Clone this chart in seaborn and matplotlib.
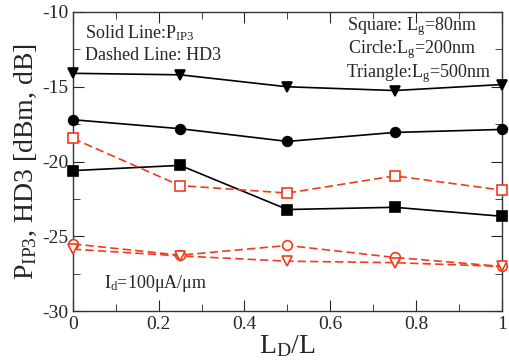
import numpy as np
import pandas as pd
import matplotlib
matplotlib.use("Agg")
import matplotlib.pyplot as plt
import seaborn as sns
from matplotlib.ticker import MultipleLocator

# Dados
ld_l = [0, 0.25, 0.5, 0.75, 1.0]

pip3_80 = [-20.6, -20.25, -23.2, -23.05, -23.65]
pip3_200 = [-17.2, -17.8, -18.65, -18.05, -17.85]
pip3_500 = [-14.1, -14.2, -15.0, -15.25, -14.85]

hd3_80 = [-18.45, -21.6, -22.1, -20.95, -21.9]
hd3_200 = [-25.5, -26.25, -25.6, -26.4, -27.0]
hd3_500 = [-25.85, -26.3, -26.65, -26.75, -27.0]

x_ticks = [0, 0.2, 0.4, 0.6, 0.8, 1.0]
x_labels = ["0", "0.2", "0.4", "0.6", "0.8", "1"]
y_ticks = [-30, -25, -20, -15, -10]
y_labels = ["-30", "-25", "-20", "-15", "-10"]

sns.set_style("ticks")
serif = "Liberation Serif"
plt.rcParams["font.family"] = [serif, "DejaVu Serif"]
plt.rcParams["mathtext.fontset"] = "custom"
plt.rcParams["mathtext.rm"] = serif
plt.rcParams["mathtext.it"] = serif + ":italic"
plt.rcParams["axes.unicode_minus"] = False

fig, ax = plt.subplots(figsize=(5.1, 3.62), dpi=100)
fig.subplots_adjust(left=0.143, right=0.984, top=0.967, bottom=0.14)

red = "#f23b1e"
series = [
    (pip3_80, "s", "-", "black", True),
    (pip3_200, "o", "-", "black", True),
    (pip3_500, "v", "-", "black", True),
    (hd3_80, "s", (0, (5, 2.5)), red, False),
    (hd3_200, "o", (0, (5, 2.5)), red, False),
    (hd3_500, "v", (0, (5, 2.5)), red, False),
]
for vals, mk, ls, c, filled in series:
    sns.lineplot(x=ld_l, y=vals, ax=ax, color=c, linestyle=ls, linewidth=1.2,
                 marker=mk, markersize=7, markeredgewidth=1.2,
                 markerfacecolor=c if filled else "white", markeredgecolor=c,
                 clip_on=False, zorder=3)

ax.set_xlim(0, 1)
ax.set_ylim(-30, -10)
ax.xaxis.set_minor_locator(MultipleLocator(0.1))
ax.yaxis.set_minor_locator(MultipleLocator(2.5))
ax.set_xticks(x_ticks)
ax.set_xticklabels(x_labels, fontfamily=serif, fontsize=14)
ax.set_yticks(y_ticks)
ax.set_yticklabels(y_labels, fontfamily=serif, fontsize=14)
ax.tick_params(which="both", direction="in", top=True, right=True)
ax.tick_params(which="major", length=8)
ax.tick_params(which="minor", length=5)
for s in ax.spines.values():
    s.set_linewidth(1.0)
    s.set_color("#333333")

ax.set_xlabel(r"L$_{\mathrm{D}}$/L", fontsize=20, labelpad=0)
ax.set_ylabel(r"P$_{\mathrm{IP3}}$, HD3 [dBm, dB]", fontsize=20, labelpad=2)

txt = dict(transform=ax.transAxes, fontsize=13, va="baseline")
ax.text(0.028, 0.913, r"Solid Line:P$_{\mathrm{IP3}}$", **txt)
ax.text(0.028, 0.84, "Dashed Line: HD3", **txt)
ax.text(0.639, 0.94, r"Square: L$_{\mathrm{g}}$=80nm", **txt)
ax.text(0.641, 0.863, r"Circle:L$_{\mathrm{g}}$=200nm", **txt)
ax.text(0.636, 0.783, r"Triangle:L$_{\mathrm{g}}$=500nm", **txt)
ax.text(0.072, 0.077, r"I$_{\mathrm{d}}$=100$\mathrm{\mu}$A/$\mathrm{\mu}$m", **txt)

plt.savefig("out.png", dpi=100)
